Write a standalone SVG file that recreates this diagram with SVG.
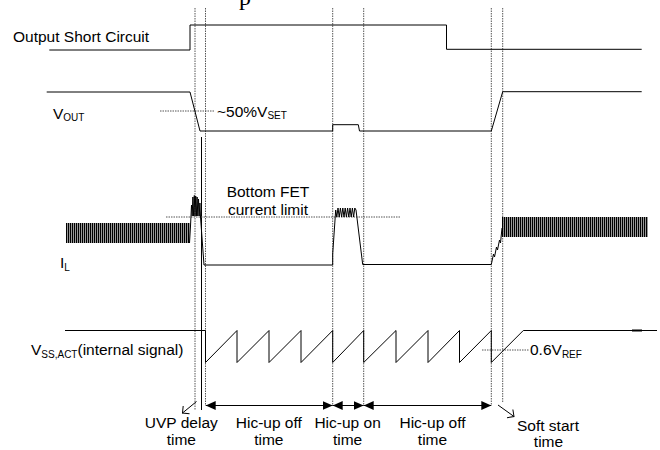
<svg xmlns="http://www.w3.org/2000/svg" width="660" height="450" viewBox="0 0 660 450">
<defs>
<style>
.t{font-family:"Liberation Sans",Arial,sans-serif;font-size:15.5px;fill:#000}
.s{font-size:10px}
.w{fill:none;stroke:#000;stroke-width:1}
.d{fill:none;stroke:#555;stroke-width:1;stroke-dasharray:1.5 1}
.v{fill:none;stroke:#000;stroke-width:1}
</style>
<pattern id="h1" patternUnits="userSpaceOnUse" x="66" y="223" width="2" height="20"><rect x="0" y="0" width="1.4" height="20" fill="#000"/></pattern>
<pattern id="h3" patternUnits="userSpaceOnUse" x="502" y="217" width="2" height="20"><rect x="0" y="0" width="1.4" height="20" fill="#000"/></pattern>
<marker id="fa" markerUnits="userSpaceOnUse" markerWidth="11" markerHeight="10" refX="10" refY="4.5" orient="auto-start-reverse"><path d="M0,0 L10,4.5 L0,9 z" fill="#000"/></marker>
<marker id="oa" markerUnits="userSpaceOnUse" markerWidth="12" markerHeight="12" refX="6" refY="6" orient="auto"><path d="M1,1 L6,6 L1,11" fill="none" stroke="#000" stroke-width="1"/></marker>
</defs>
<rect width="660" height="450" fill="#fff"/>
<text x="239" y="4.5" style="font-family:'Liberation Serif',serif;font-size:24px">p</text>

<g id="guides">
<line class="d" x1="195" y1="8" x2="195" y2="410"/>
<line class="v" x1="201.5" y1="137" x2="201.5" y2="410"/>
<line class="d" x1="205.5" y1="8" x2="205.5" y2="405"/>
<line class="d" x1="332.7" y1="8" x2="332.7" y2="405"/>
<line class="d" x1="363.7" y1="8" x2="363.7" y2="405"/>
<line class="d" x1="491.3" y1="8" x2="491.3" y2="405"/>
<line class="d" x1="502.7" y1="8" x2="502.7" y2="402"/>
<line class="d" x1="160" y1="111" x2="214" y2="111"/>
<line class="d" x1="166" y1="217" x2="401" y2="217"/>
<line class="d" x1="482" y1="350" x2="529" y2="350"/>
</g>

<g id="short-circuit">
<text class="t" x="13" y="42">Output Short Circuit</text>
<polyline class="w" points="49.3,50 190,50 190,25 446.5,25 446.5,49.3 641.7,49.3"/>
</g>

<g id="vout">
<text class="t" x="53" y="119">V<tspan class="s" dy="2">OUT</tspan></text>
<text class="t" x="217" y="116.5">~50%V<tspan class="s" dy="2.5">SET</tspan></text>
<polyline class="w" points="46.7,92 190,92 200,131 332.7,131 332.7,124.7 358.3,124.7 359.5,131 491.3,131 502.7,91.7 641.7,91.7"/>
</g>

<g id="il">
<text class="t" x="268" y="197.3" text-anchor="middle">Bottom FET</text>
<text class="t" x="268" y="214.5" text-anchor="middle">current limit</text>
<text class="t" x="60" y="268">I<tspan class="s" dy="2.5">L</tspan></text>
<rect x="66" y="223" width="124" height="20" fill="url(#h1)"/>
<polyline class="w" points="189.5,243 190.5,226 191.5,205 192.2,216 192.9,197 193.6,216 194.3,195.5 195,216 195.7,196 196.4,216 197.1,197 197.8,216 198.5,199 199.2,216 199.9,203 200.5,217 204,265 332.7,265 332.7,254 335.7,210 336.8,217 338,208 339.2,217 340.4,208 341.6,217 342.8,208 344,217 345.2,208 346.4,217 347.6,208 348.8,217 350,208 351.2,217 352.4,208 353.6,217 354.8,208 356,210 362.7,264.5 491.3,264.5 493.5,254 494.5,257 496.5,247 497.5,250 499.5,240 500.5,243 502,228"/>
<rect x="502" y="217" width="146" height="20" fill="url(#h3)"/>
</g>

<g id="vss">
<text class="t" x="31" y="355">V<tspan class="s" dy="2.5">SS,ACT</tspan><tspan dy="-2.5">(internal signal)</tspan></text>
<text class="t" x="530" y="355">0.6V<tspan class="s" dy="2.5">REF</tspan></text>
<polyline class="w" points="65,330.5 205.5,330.5 205.5,362.5 237,330.5 237,362.5 269,330.5 269,362.5 301,330.5 301,362.5 332.7,330.5 332.7,362.5 363.7,330.5 363.7,362.5 396,330.5 396,362.5 428,330.5 428,362.5 459.5,330.5 459.5,362.5 491.3,330.5 491.3,362.5 523.3,330.5 657,330.5"/>
<line x1="632" y1="330.5" x2="642" y2="330.5" stroke="#000" stroke-width="2"/>
</g>

<g id="connectors">
<line class="w" x1="205.7" y1="405.5" x2="332.7" y2="405.5" marker-start="url(#fa)" marker-end="url(#fa)"/>
<line class="w" x1="332.7" y1="405.5" x2="363.7" y2="405.5" marker-start="url(#fa)" marker-end="url(#fa)"/>
<line class="w" x1="363.7" y1="405.5" x2="491.3" y2="405.5" marker-start="url(#fa)" marker-end="url(#fa)"/>
<line class="w" x1="196.5" y1="401.5" x2="182.5" y2="413" marker-end="url(#oa)"/>
<line class="w" x1="498" y1="405" x2="514" y2="416.5" marker-end="url(#oa)"/>
</g>

<g id="labels">
<text class="t" x="181.3" y="428.3" text-anchor="middle">UVP delay</text>
<text class="t" x="181.3" y="445" text-anchor="middle">time</text>
<text class="t" x="268.8" y="428.3" text-anchor="middle">Hic-up off</text>
<text class="t" x="268.8" y="445" text-anchor="middle">time</text>
<text class="t" x="347.6" y="428.3" text-anchor="middle">Hic-up on</text>
<text class="t" x="347.6" y="445" text-anchor="middle">time</text>
<text class="t" x="432.5" y="428.3" text-anchor="middle">Hic-up off</text>
<text class="t" x="432.5" y="445" text-anchor="middle">time</text>
<text class="t" x="548" y="430.5" text-anchor="middle">Soft start</text>
<text class="t" x="548.5" y="447" text-anchor="middle">time</text>
</g>
</svg>
